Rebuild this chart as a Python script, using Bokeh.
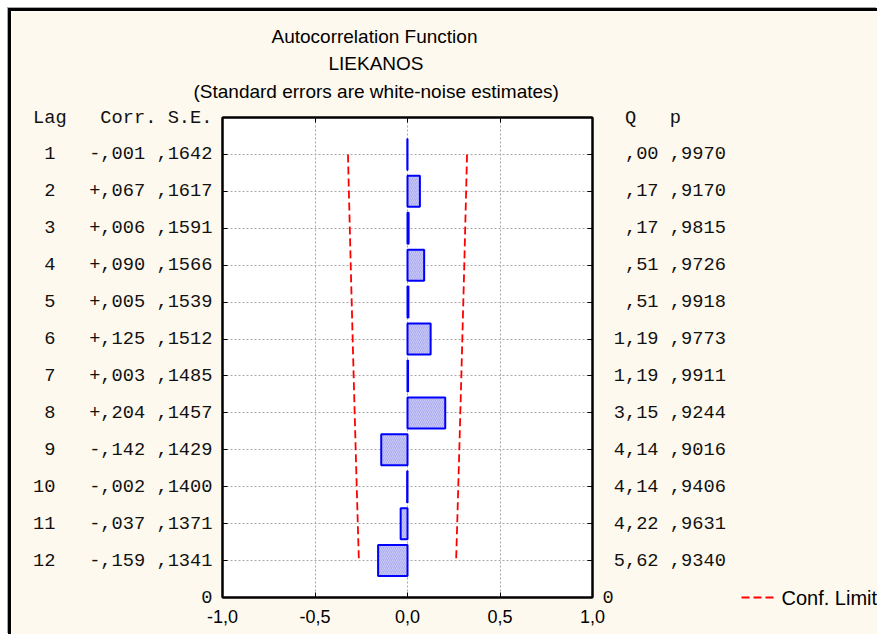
from bokeh.plotting import figure
from bokeh.models import Range1d, FixedTicker, LinearAxis, Title, ColumnDataSource
from bokeh.embed import file_html
from bokeh.resources import INLINE

# ---- data ----
lags = [1, 2, 3, 4, 5, 6, 7, 8, 9, 10, 11, 12]
corr = [-0.001, 0.067, 0.006, 0.090, 0.005, 0.125, 0.003, 0.204, -0.142, -0.002, -0.037, -0.159]
se = [0.1642, 0.1617, 0.1591, 0.1566, 0.1539, 0.1512, 0.1485, 0.1457, 0.1429, 0.1400, 0.1371, 0.1341]
q_stat = [0.00, 0.17, 0.17, 0.51, 0.51, 1.19, 1.19, 3.15, 4.14, 4.14, 4.22, 5.62]
p_val = [0.9970, 0.9170, 0.9815, 0.9726, 0.9918, 0.9773, 0.9911, 0.9244, 0.9016, 0.9406, 0.9631, 0.9340]
x_ticks = [-1.0, -0.5, 0.0, 0.5, 1.0]
x_tick_labels = ["-1,0", "-0,5", "0,0", "0,5", "1,0"]
title_lines = ["Autocorrelation Function", "LIEKANOS", "(Standard errors are white-noise estimates)"]
left_header = "Lag   Corr. S.E."
right_header = "  Q   p"
legend_label = "Conf. Limit"
conf_z = 1.96

NB = "\u00a0"


def fmt(v, d, sign=False):
    s = f"{abs(v):.{d}f}"
    if s.startswith("0"):
        s = s[1:]
    s = s.replace(".", ",")
    if sign:
        s = ("-" if v < 0 else "+") + s
    return s


n = len(lags)
bottom_pos = n + 1
all_pos = list(range(0, bottom_pos + 1))

left_labels = {0: left_header.replace(" ", NB), bottom_pos: "0"}
right_labels = {0: right_header.ljust(12).replace(" ", NB), bottom_pos: "0"}
for k, c, s, qq, pp in zip(lags, corr, se, q_stat, p_val):
    left_labels[k] = f"{k:>2}   {fmt(c, 3, True)} {fmt(s, 4)}".replace(" ", NB)
    right_labels[k] = f" {fmt(qq, 2):>4} {fmt(pp, 4)}".replace(" ", NB)

bar_h = 0.42
src = ColumnDataSource(dict(
    left=[min(0, c) for c in corr],
    right=[max(0, c) for c in corr],
    top=[k - bar_h for k in lags],
    bottom=[k + bar_h for k in lags],
))
conf_src = ColumnDataSource(dict(
    lag=lags,
    lo=[-conf_z * s for s in se],
    hi=[conf_z * s for s in se],
))

CREAM = "#FEF9EE"
MONO = "Liberation Mono"
MONO_SIZE = "18.7px"
SANS = "Liberation Sans"
RED = "#FF0000"
CONF_DASH = "8 4"

p = figure(width=869, height=626, x_range=Range1d(-1, 1), y_range=Range1d(bottom_pos, 0),
           output_backend="svg", toolbar_location=None,
           min_border_left=211, min_border_right=287, min_border_top=106, min_border_bottom=40)
p.styles = {"margin-left": "8px", "margin-top": "8px",
            "border-top": "3px solid black", "border-left": "3px solid black",
            "box-shadow": "-1px -1px 0 #A8A8A8"}
p.border_fill_color = CREAM
p.background_fill_color = "white"
p.outline_line_color = "black"
p.outline_line_width = 2

# grid
p.xgrid.ticker = FixedTicker(ticks=x_ticks[1:-1])
p.ygrid.ticker = FixedTicker(ticks=lags)
for g in (p.xgrid, p.ygrid):
    g.grid_line_color = "#A8A8A8"
    g.grid_line_dash = "2 2"
    g.grid_line_width = 1

# bottom axis
xa = p.xaxis[0]
xa.ticker = FixedTicker(ticks=x_ticks)
xa.major_label_overrides = {t: l for t, l in zip(x_ticks, x_tick_labels)}
xa.major_label_text_font = SANS
xa.major_label_text_font_size = "18px"
xa.major_label_text_color = "black"
xa.major_label_standoff = 12

# left axis
ya = p.yaxis[0]
ya.ticker = FixedTicker(ticks=all_pos)
ya.major_label_overrides = left_labels
ya.major_label_text_font = MONO
ya.major_label_text_font_size = MONO_SIZE
ya.major_label_text_color = "#111111"
ya.major_label_standoff = 10

# right axis
ra = LinearAxis(ticker=FixedTicker(ticks=all_pos))
ra.major_label_overrides = right_labels
ra.major_label_text_font = MONO
ra.major_label_text_font_size = MONO_SIZE
ra.major_label_text_color = "#111111"
ra.major_label_standoff = 10
p.add_layout(ra, "right")

# top axis (ticks only)
ta = LinearAxis(ticker=FixedTicker(ticks=x_ticks))
ta.major_label_text_alpha = 0
ta.major_label_text_font_size = "1px"
ta.major_label_standoff = 11
p.add_layout(ta, "above")

for ax in (xa, ya, ra, ta):
    ax.axis_line_color = "black"
    ax.axis_line_width = 2
    ax.major_tick_line_color = "black"
    ax.major_tick_line_width = 1
    ax.major_tick_in = 5
    ax.major_tick_out = 0
    ax.minor_tick_line_color = None

# legend key: outer right axis whose single tick is the dashed sample line
la = LinearAxis(ticker=FixedTicker(ticks=[bottom_pos]))
la.major_label_overrides = {bottom_pos: legend_label}
la.major_label_text_font = SANS
la.major_label_text_font_size = "20px"
la.major_label_text_color = "black"
la.major_label_standoff = 8
la.axis_line_color = None
la.minor_tick_line_color = None
la.major_tick_in = 0
la.major_tick_out = 33
la.major_tick_line_color = RED
la.major_tick_line_width = 1.8
la.major_tick_line_dash = CONF_DASH
p.add_layout(la, "right")

# bars
p.quad(left="left", right="right", top="top", bottom="bottom", source=src,
       fill_color="#ADADF0", line_color="#0000FF", line_width=2,
       hatch_pattern="/", hatch_color="white", hatch_alpha=0.35, hatch_scale=4, hatch_weight=1)

# confidence limits
p.line(x="lo", y="lag", source=conf_src, line_color=RED, line_width=1.8, line_dash=CONF_DASH)
p.line(x="hi", y="lag", source=conf_src, line_color=RED, line_width=1.8, line_dash=CONF_DASH)

# spacer between top ticks and the title block
p.add_layout(Title(text=NB, text_font_size="4px", standoff=6), "above")

# titles (added nearest-first)
offsets = {title_lines[2]: -29, title_lines[1]: 106, title_lines[0]: 49}
standoffs = {title_lines[2]: 6, title_lines[1]: 4, title_lines[0]: 4}
for txt in reversed(title_lines):
    p.add_layout(Title(text=txt, align="left", offset=offsets[txt], standoff=standoffs[txt],
                       text_font=SANS, text_font_size="19px", text_font_style="normal",
                       text_color="black"), "above")

open("out.html", "w").write(file_html(p, INLINE))
